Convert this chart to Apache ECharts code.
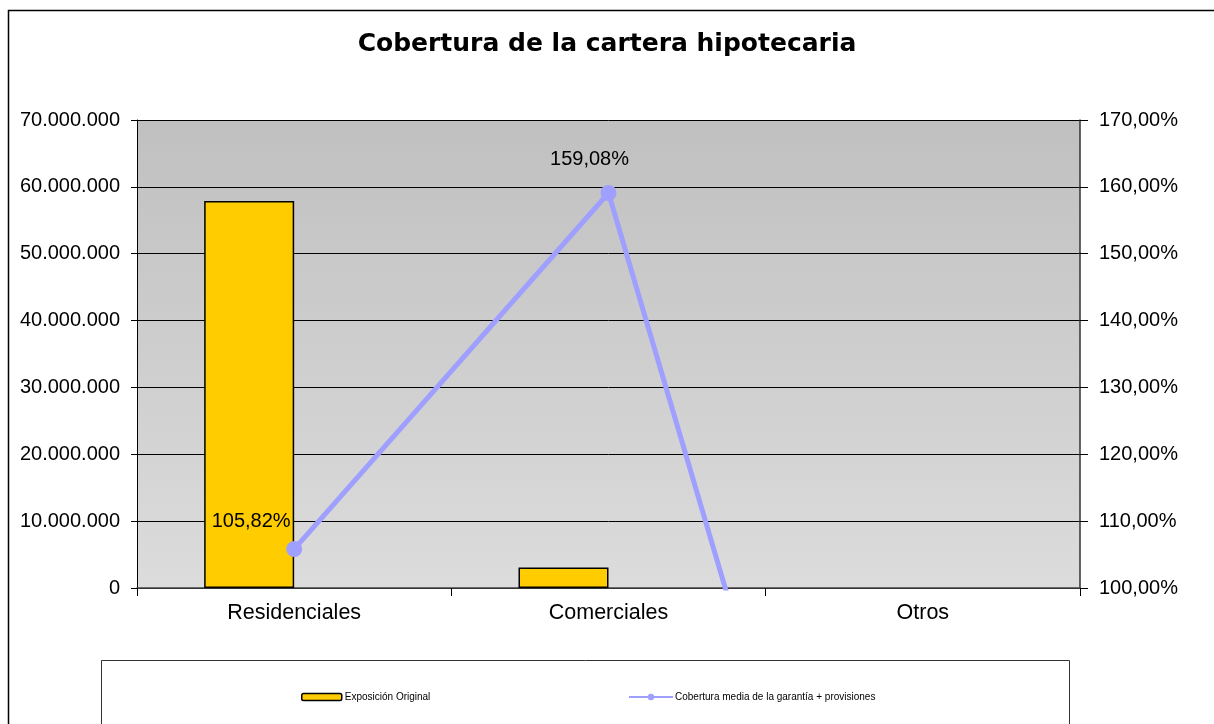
<!DOCTYPE html>
<html>
<head>
<meta charset="utf-8">
<script src="https://cdn.jsdelivr.net/npm/echarts@6/dist/echarts.min.js"></script>
<style>
  html, body { margin: 0; padding: 0; background: #fff; }
  #chart { width: 1214px; height: 724px; }
</style>
</head>
<body>
<div id="chart"></div>
<script>
  // datos
  var categories = ['Residenciales', 'Comerciales', 'Otros'];
  var exposicion = [57900000, 3050000, 0];
  var cobertura = [105.82, 159.08, 0];
  var leftTicks = { min: 0, max: 70000000, interval: 10000000 };
  var rightTicks = { min: 100, max: 170, interval: 10 };

  // desplazamiento de las etiquetas (solo estilo)
  var labelOffsets = [[-43, -4], [-19, -10], [0, 0]];

  var font = '"Liberation Sans", Arial, sans-serif';

  function miles(v) {
    return String(Math.round(v)).replace(/\B(?=(\d{3})+(?!\d))/g, '.');
  }
  function pct(v) {
    return v.toFixed(2).replace('.', ',') + '%';
  }

  var chart = echarts.init(document.getElementById('chart'), null, { renderer: 'canvas' });

  chart.setOption({
    backgroundColor: '#ffffff',
    animation: false,
    title: {
      text: 'Cobertura de la cartera hipotecaria',
      left: 'center',
      top: 27,
      textStyle: { fontFamily: '"DejaVu Sans", Verdana, sans-serif', fontSize: 25, fontWeight: 'bold', color: '#000' }
    },
    graphic: [
      { type: 'rect', shape: { x: 8.5, y: 10.5, width: 1230, height: 730 }, style: { fill: null, stroke: '#000', lineWidth: 1.5 }, silent: true, z: -10 },
      { type: 'rect', shape: { x: 101.5, y: 660.5, width: 968, height: 100 }, style: { fill: '#fff', stroke: '#333', lineWidth: 1 }, silent: true, z: -5 }
    ],
    legend: [
      {
        data: ['Exposición Original'],
        left: 296, top: 687,
        itemWidth: 40, itemHeight: 7,
        textStyle: { fontFamily: font, fontSize: 10, color: '#000', padding: [0, 0, 0, -2] },
        itemStyle: { borderColor: '#000', borderWidth: 1.5 }
      },
      {
        data: ['Cobertura media de la garantía + provisiones'],
        left: 623, top: 687,
        itemWidth: 44, itemHeight: 8,
        textStyle: { fontFamily: font, fontSize: 10, color: '#000', padding: [0, 0, 0, -3] }
      }
    ],
    grid: {
      left: 137, right: 134, top: 120, bottom: 136,
      show: true,
      borderWidth: 0,
      backgroundColor: new echarts.graphic.LinearGradient(0, 0, 0, 1, [
        { offset: 0, color: '#c0c0c0' },
        { offset: 1, color: '#dcdcdc' }
      ])
    },
    xAxis: {
      type: 'category',
      data: categories,
      axisLine: { lineStyle: { color: '#444', width: 1.5 } },
      axisTick: { show: true, length: 8, lineStyle: { color: '#000' } },
      axisLabel: { fontFamily: font, fontSize: 21.5, color: '#000', margin: 14 }
    },
    yAxis: [
      {
        type: 'value',
        min: leftTicks.min, max: leftTicks.max, interval: leftTicks.interval,
        axisLine: { show: true, lineStyle: { color: '#000' } },
        axisTick: { show: true, length: 6, lineStyle: { color: '#000' } },
        splitLine: { show: true, lineStyle: { color: '#000', width: 1 } },
        axisLabel: { fontFamily: font, fontSize: 20, color: '#000', margin: 17, formatter: miles }
      },
      {
        type: 'value',
        min: rightTicks.min, max: rightTicks.max, interval: rightTicks.interval,
        axisLine: { show: true, lineStyle: { color: '#333', width: 1.5 } },
        axisTick: { show: true, length: 8, lineStyle: { color: '#000' } },
        splitLine: { show: false },
        axisLabel: { fontFamily: font, fontSize: 20, color: '#000', margin: 19, formatter: pct }
      }
    ],
    series: [
      {
        name: 'Exposición Original',
        type: 'bar',
        yAxisIndex: 0,
        barWidth: 90,
        barGap: '0%',
        data: exposicion.map(function (v) {
          return v > 0 ? v : { value: v, itemStyle: { borderWidth: 0 } };
        }),
        itemStyle: { color: '#ffcc00', borderColor: '#000', borderWidth: 1.5 }
      },
      {
        name: 'hueco',
        type: 'bar',
        yAxisIndex: 0,
        barWidth: 90,
        data: categories.map(function () { return null; })
      },
      {
        name: 'Cobertura media de la garantía + provisiones',
        type: 'line',
        yAxisIndex: 1,
        clip: true,
        z: 5,
        symbol: 'circle',
        symbolSize: 16,
        data: cobertura.map(function (v, i) {
          return {
            value: v,
            label: { show: i < 2, offset: labelOffsets[i] }
          };
        }),
        lineStyle: { color: '#9f9fff', width: 5 },
        itemStyle: { color: '#9f9fff' },
        label: {
          position: 'top',
          distance: 6,
          fontFamily: font,
          fontSize: 20,
          color: '#000',
          formatter: function (p) { return pct(p.value); }
        }
      }
    ]
  });
</script>
</body>
</html>
